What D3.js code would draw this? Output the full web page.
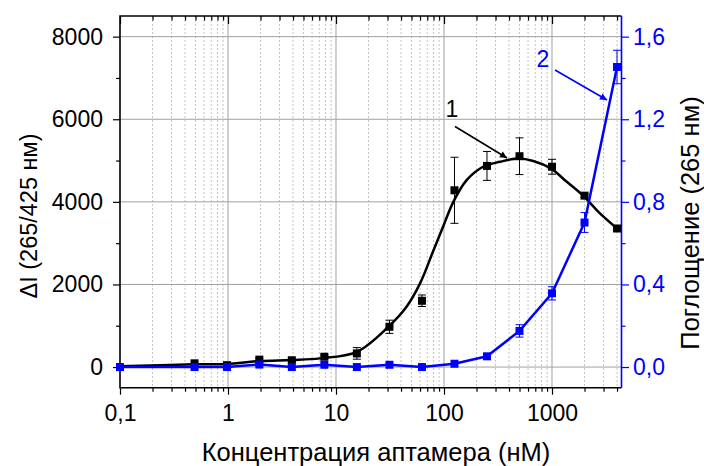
<!DOCTYPE html>
<html>
<head>
<meta charset="utf-8">
<script src="https://cdn.jsdelivr.net/npm/d3@7"></script>
<style>
  html, body { margin: 0; padding: 0; background: #fff; }
  svg { display: block; }
  text { font-family: "Liberation Sans", Arial, sans-serif; }
</style>
</head>
<body>
<svg id="chart" width="704" height="466"></svg>
<script>
// ---- data ----
const concentrations = [0.1, 0.49, 0.98, 1.95, 3.9, 7.8, 15.6, 31.25, 62.5, 125, 250, 500, 1000, 2000, 4000];
const deltaI =         [0, 90, 45, 180, 165, 250, 330, 975, 1605, 4280, 4870, 5105, 4850, 4150, 3355];
const deltaIErr =      [0, 0, 0, 30, 30, 40, 140, 160, 140, 800, 350, 445, 180, 40, 0];
const absorbance =     [0, 0, 0, 0.012, 0, 0.011, 0, 0.011, 0, 0.016, 0.052, 0.175, 0.357, 0.70, 1.453];
const absorbanceErr =  [0, 0, 0, 0, 0, 0, 0, 0, 0, 0, 0.01, 0.03, 0.032, 0.048, 0.081];
// fitted curve for series 1
const fitX = [0.1, 0.49, 0.98, 1.95, 3.9, 7.1, 15.6, 30.5, 45, 60, 80, 98, 122, 162, 230, 330, 490, 671, 973, 1370, 1950, 2780, 4000];
const fitY = [20, 65, 73, 145, 170, 210, 370, 975, 1460, 2025, 2830, 3395, 4000, 4525, 4850, 4970, 5050, 4990, 4810, 4485, 4145, 3720, 3355];
const xMajorTicks = [0.1, 1, 10, 100, 1000];
const leftMajorTicks = [0, 2000, 4000, 6000, 8000];
const leftMinorTicks = [1000, 3000, 5000, 7000];
const rightMajorTicks = [0, 0.4, 0.8, 1.2, 1.6];
const rightMinorTicks = [0.2, 0.6, 1.0, 1.4];
const xTitle = "Концентрация аптамера (нМ)";
const yLeftTitle = "ΔI (265/425 нм)";
const yRightTitle = "Поглощение (265 нм)";

// ---- layout ----
const L = 120, R = 621.5, T = 16, B = 387.7;
const BLUE = "#0000ff";
const TICK_FONT = "23px", TITLE_FONT = "25.5px";
const svg = d3.select("#chart");

const x = d3.scaleLog().domain([0.1, 4400]).range([L, R]);
const yL = d3.scaleLinear().domain([-500, 8500]).range([B, T]);
const yR = d3.scaleLinear().domain([-0.1, 1.7]).range([B, T]);

const xMinorTicks = [];
[0.1, 1, 10, 100, 1000].forEach(d => { for (let k = 2; k <= 9; k++) { const v = d * k; if (v <= 4400) xMinorTicks.push(v); } });

const comma = v => String(v).replace(".", ",");
const fmt1 = v => v.toFixed(1).replace(".", ",");

// ---- grid ----
const grid = svg.append("g");
grid.selectAll("line.minx").data(xMinorTicks).join("line")
  .attr("x1", d => x(d)).attr("x2", d => x(d)).attr("y1", T).attr("y2", B)
  .attr("stroke", "#c4c4c4").attr("stroke-width", 1).attr("stroke-dasharray", "2,2");
grid.selectAll("line.majx").data(xMajorTicks.slice(1)).join("line")
  .attr("x1", d => x(d)).attr("x2", d => x(d)).attr("y1", T).attr("y2", B)
  .attr("stroke", "#a0a0a0").attr("stroke-width", 1);
grid.selectAll("line.majy").data(leftMajorTicks).join("line")
  .attr("x1", L).attr("x2", R).attr("y1", d => yL(d)).attr("y2", d => yL(d))
  .attr("stroke", "#a0a0a0").attr("stroke-width", 1);

// ---- axes ----
function styleAxis(g, color) {
  g.select(".domain").remove();
  g.selectAll(".tick line").attr("stroke", color).attr("stroke-width", 1.2);
  g.selectAll(".tick text").attr("fill", color).style("font-size", TICK_FONT)
    .style("font-family", '"Liberation Sans", Arial, sans-serif');
}
// bottom
svg.append("g").attr("transform", `translate(0,${B})`)
  .call(d3.axisBottom(x).tickValues(xMajorTicks).tickFormat(comma).tickSize(7).tickPadding(10))
  .call(g => styleAxis(g, "#000"));
svg.append("g").attr("transform", `translate(0,${B})`)
  .call(d3.axisBottom(x).tickValues(xMinorTicks).tickFormat("").tickSize(4))
  .call(g => styleAxis(g, "#000"));
// top (inward)
svg.append("g").attr("transform", `translate(0,${T})`)
  .call(d3.axisTop(x).tickValues(xMajorTicks).tickFormat("").tickSize(-8))
  .call(g => styleAxis(g, "#000"));
svg.append("g").attr("transform", `translate(0,${T})`)
  .call(d3.axisTop(x).tickValues(xMinorTicks).tickFormat("").tickSize(-4.5))
  .call(g => styleAxis(g, "#000"));
// left
svg.append("g").attr("transform", `translate(${L},0)`)
  .call(d3.axisLeft(yL).tickValues(leftMajorTicks).tickFormat(d3.format("d")).tickSize(7).tickPadding(10))
  .call(g => styleAxis(g, "#000"));
svg.append("g").attr("transform", `translate(${L},0)`)
  .call(d3.axisLeft(yL).tickValues(leftMinorTicks).tickFormat("").tickSize(4))
  .call(g => styleAxis(g, "#000"));
// right
svg.append("g").attr("transform", `translate(${R},0)`)
  .call(d3.axisRight(yR).tickValues(rightMajorTicks).tickFormat(fmt1).tickSize(7.5).tickPadding(4))
  .call(g => styleAxis(g, BLUE));
svg.append("g").attr("transform", `translate(${R},0)`)
  .call(d3.axisRight(yR).tickValues(rightMinorTicks).tickFormat("").tickSize(4))
  .call(g => styleAxis(g, BLUE));

// frame
svg.append("path").attr("d", `M${R},${T}H${L}V${B}H${R}`).attr("fill", "none")
  .attr("stroke", "#000").attr("stroke-width", 1.6);
svg.append("line").attr("x1", R).attr("x2", R).attr("y1", T).attr("y2", B)
  .attr("stroke", BLUE).attr("stroke-width", 1.6);

// ---- series 1 (black) ----
const fit = fitX.map((v, i) => [v, fitY[i]]);
svg.append("path").datum(fit)
  .attr("d", d3.line().x(d => x(d[0])).y(d => yL(d[1])).curve(d3.curveCatmullRom.alpha(0.5)))
  .attr("fill", "none").attr("stroke", "#000").attr("stroke-width", 2.5);

const s1 = concentrations.map((c, i) => ({ c, v: deltaI[i], e: deltaIErr[i] }));
const eb1 = svg.append("g").attr("stroke", "#000").attr("stroke-width", 1);
s1.filter(d => d.e > 0).forEach(d => {
  const cx = x(d.c), y1 = yL(d.v + d.e), y2 = yL(d.v - d.e);
  eb1.append("line").attr("x1", cx).attr("x2", cx).attr("y1", y1).attr("y2", y2);
  eb1.append("line").attr("x1", cx - 4).attr("x2", cx + 4).attr("y1", y1).attr("y2", y1);
  eb1.append("line").attr("x1", cx - 4).attr("x2", cx + 4).attr("y1", y2).attr("y2", y2);
});
svg.append("g").selectAll("rect").data(s1).join("rect")
  .attr("x", d => x(d.c) - 4).attr("y", d => yL(d.v) - 4).attr("width", 8).attr("height", 8)
  .attr("fill", "#000");

// ---- series 2 (blue) ----
const s2 = concentrations.map((c, i) => ({ c, v: absorbance[i], e: absorbanceErr[i] }));
svg.append("path").datum(s2)
  .attr("d", d3.line().x(d => x(d.c)).y(d => yR(d.v)))
  .attr("fill", "none").attr("stroke", BLUE).attr("stroke-width", 2.5);
const eb2 = svg.append("g").attr("stroke", BLUE).attr("stroke-width", 1);
s2.filter(d => d.e > 0).forEach(d => {
  const cx = x(d.c), y1 = yR(d.v + d.e), y2 = yR(d.v - d.e);
  eb2.append("line").attr("x1", cx).attr("x2", cx).attr("y1", y1).attr("y2", y2);
  eb2.append("line").attr("x1", cx - 4).attr("x2", cx + 4).attr("y1", y1).attr("y2", y1);
  eb2.append("line").attr("x1", cx - 4).attr("x2", cx + 4).attr("y1", y2).attr("y2", y2);
});
svg.append("g").selectAll("rect").data(s2).join("rect")
  .attr("x", d => x(d.c) - 4).attr("y", d => yR(d.v) - 4).attr("width", 8).attr("height", 8)
  .attr("fill", BLUE);

// ---- annotations ----
const defs = svg.append("defs");
[["ahBlack", "#000"], ["ahBlue", BLUE]].forEach(([id, col]) => {
  defs.append("marker").attr("id", id).attr("viewBox", "0 0 10 10").attr("refX", 10).attr("refY", 5)
    .attr("markerWidth", 10).attr("markerHeight", 7).attr("markerUnits", "userSpaceOnUse")
    .attr("orient", "auto")
    .append("path").attr("d", "M0,0L10,5L0,10z").attr("fill", col);
});
svg.append("text").attr("x", 452).attr("y", 117).attr("text-anchor", "middle")
  .style("font-size", "23px").attr("fill", "#000").text("1");
svg.append("line").attr("x1", 455).attr("y1", 126.5).attr("x2", 507).attr("y2", 158)
  .attr("stroke", "#000").attr("stroke-width", 1.6).attr("marker-end", "url(#ahBlack)");
svg.append("text").attr("x", 543).attr("y", 66.5).attr("text-anchor", "middle")
  .style("font-size", "23px").attr("fill", BLUE).text("2");
svg.append("line").attr("x1", 555).attr("y1", 70).attr("x2", 607).attr("y2", 100)
  .attr("stroke", BLUE).attr("stroke-width", 1.6).attr("marker-end", "url(#ahBlue)");

// ---- titles ----
svg.append("text").attr("x", 376).attr("y", 461).attr("text-anchor", "middle")
  .style("font-size", TITLE_FONT).attr("fill", "#000").text(xTitle);
svg.append("text").attr("transform", "translate(37,216) rotate(-90)").attr("text-anchor", "middle")
  .style("font-size", "23.5px").attr("fill", "#000").text(yLeftTitle);
svg.append("text").attr("transform", "translate(699,223) rotate(-90)").attr("text-anchor", "middle")
  .style("font-size", TITLE_FONT).attr("fill", "#000").text(yRightTitle);
</script>
</body>
</html>
